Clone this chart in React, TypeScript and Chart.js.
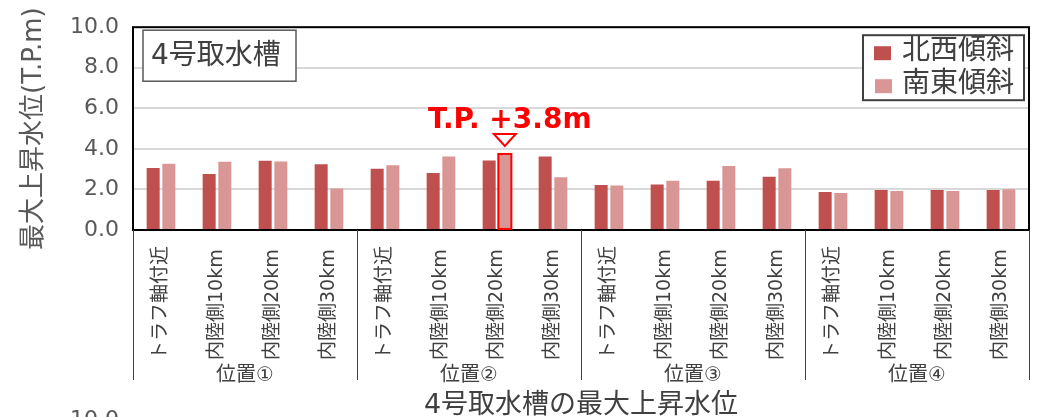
import React, { useEffect, useRef } from 'react';
import { Chart, registerables } from 'chart.js';

Chart.register(...registerables);

const FONT = "'DejaVu Sans', 'Noto Sans CJK JP', sans-serif";

// ---- data ----
const positions = ['位置①', '位置②', '位置③', '位置④'];
const subCategories = ['トラフ軸付近', '内陸側10km', '内陸側20km', '内陸側30km'];
const categories = positions.flatMap(() => subCategories);
const seriesNames = ['北西傾斜', '南東傾斜'];
const northwestValues = [3.06, 2.76, 3.41, 3.24, 3.02, 2.81, 3.43, 3.62, 2.22, 2.24, 2.43, 2.63, 1.87, 1.97, 1.97, 1.97];
const southeastValues = [3.27, 3.37, 3.38, 2.05, 3.19, 3.62, 3.75, 2.6, 2.2, 2.43, 3.16, 3.05, 1.83, 1.92, 1.92, 2.01];
const seriesColors = ['#C0504D', '#D99694'];
const yMin = 0;
const yMax = 10;
const yStep = 2;
const panelTitle = '4号取水槽';
const yAxisTitle = '最大上昇水位(T.P.m)';
const xAxisTitle = '4号取水槽の最大上昇水位';
const peakLabel = 'T.P. +3.8m';
const peakSeries = 1;
const peakIndex = 6;
const nextPanelTopTick = '10.0';

const overlayPlugin = {
  id: 'overlay',
  afterDraw(chart: any) {
    const { ctx, chartArea: a } = chart;
    const x = chart.scales.x;
    const catW = x.getPixelForValue(1) - x.getPixelForValue(0);
    ctx.save();

    // plot frame
    ctx.strokeStyle = '#000000';
    ctx.lineWidth = 2;
    ctx.strokeRect(a.left, a.top, a.right - a.left, a.bottom - a.top);

    // group separators
    ctx.strokeStyle = '#404040';
    ctx.lineWidth = 1;
    const sepBottom = 380;
    for (let g = 0; g <= positions.length; g++) {
      const px = Math.round(x.getPixelForValue(g * subCategories.length) - catW / 2) + 0.5;
      ctx.beginPath();
      ctx.moveTo(px, a.bottom);
      ctx.lineTo(px, sepBottom);
      ctx.stroke();
    }

    // category labels (rotated, start-aligned at bottom)
    ctx.fillStyle = '#404040';
    ctx.font = `19px ${FONT}`;
    ctx.textAlign = 'left';
    ctx.textBaseline = 'middle';
    categories.forEach((lab, i) => {
      ctx.save();
      ctx.translate(x.getPixelForValue(i), 360);
      ctx.rotate(-Math.PI / 2);
      ctx.fillText(lab, 0, 0);
      ctx.restore();
    });

    // group labels
    ctx.font = `20px ${FONT}`;
    ctx.textAlign = 'center';
    positions.forEach((p, g) => {
      const n = subCategories.length;
      const cx = (x.getPixelForValue(g * n) + x.getPixelForValue(g * n + n - 1)) / 2;
      ctx.fillText(p, cx, 376);
    });

    // x axis title
    ctx.font = `27px ${FONT}`;
    ctx.fillText(xAxisTitle, (a.left + a.right) / 2, 406);

    // partial tick of next panel
    ctx.fillStyle = '#595959';
    ctx.font = `22px ${FONT}`;
    ctx.textAlign = 'right';
    ctx.textBaseline = 'alphabetic';
    ctx.fillText(nextPanelTopTick, a.left - 14, 426);

    // panel title box
    ctx.fillStyle = '#ffffff';
    ctx.fillRect(a.left + 10, a.top + 3, 153, 51);
    ctx.strokeStyle = '#595959';
    ctx.lineWidth = 1.5;
    ctx.strokeRect(a.left + 10, a.top + 3, 153, 51);
    ctx.fillStyle = '#404040';
    ctx.font = `28px ${FONT}`;
    ctx.textAlign = 'left';
    ctx.textBaseline = 'middle';
    ctx.fillText(panelTitle, a.left + 18, a.top + 30);

    // legend box
    const lx = a.right - 166;
    const ly = a.top + 8;
    ctx.fillStyle = '#ffffff';
    ctx.fillRect(lx, ly, 161, 65);
    ctx.strokeStyle = '#404040';
    ctx.lineWidth = 2;
    ctx.strokeRect(lx, ly, 161, 65);
    seriesNames.forEach((name, i) => {
      const rowY = ly + 18 + i * 33;
      ctx.fillStyle = seriesColors[i];
      ctx.fillRect(lx + 11 + i, rowY - 7, 17, 14);
      ctx.fillStyle = '#404040';
      ctx.font = `28px ${FONT}`;
      ctx.fillText(name, lx + 39, rowY - 1);
    });

    // peak highlight
    const bar = chart.getDatasetMeta(peakSeries).data[peakIndex];
    const p = bar.getProps(['x', 'y', 'width', 'base'], true);
    ctx.strokeStyle = '#FF0000';
    ctx.lineWidth = 2;
    ctx.strokeRect(p.x - p.width / 2, p.y, p.width, p.base - p.y);
    // triangle marker
    ctx.beginPath();
    ctx.moveTo(p.x - 11, p.y - 20);
    ctx.lineTo(p.x + 11, p.y - 20);
    ctx.lineTo(p.x, p.y - 8);
    ctx.closePath();
    ctx.fillStyle = '#ffffff';
    ctx.fill();
    ctx.stroke();
    // label
    ctx.fillStyle = '#FF0000';
    ctx.font = `bold 28px ${FONT}`;
    ctx.textAlign = 'center';
    ctx.textBaseline = 'alphabetic';
    ctx.fillText(peakLabel, p.x + 5, p.y - 25.5);

    ctx.restore();
  },
};

export default function App() {
  const canvasRef = useRef<HTMLCanvasElement | null>(null);

  useEffect(() => {
    if (!canvasRef.current) return;
    const chart = new Chart(canvasRef.current, {
      type: 'bar',
      data: {
        labels: categories,
        datasets: [
          {
            label: seriesNames[0],
            data: northwestValues,
            backgroundColor: seriesColors[0],
            borderWidth: 0,
            categoryPercentage: 0.56,
            barPercentage: 0.83,
          },
          {
            label: seriesNames[1],
            data: southeastValues,
            backgroundColor: seriesColors[1],
            borderWidth: 0,
            categoryPercentage: 0.56,
            barPercentage: 0.83,
          },
        ],
      },
      options: {
        responsive: false,
        animation: false,
        devicePixelRatio: 1,
        layout: { padding: { left: 0, right: 16, top: 20, bottom: 0 } },
        plugins: {
          legend: { display: false },
          tooltip: { enabled: false },
        },
        scales: {
          x: {
            type: 'category',
            offset: true,
            grid: { display: false },
            border: { display: false },
            ticks: { display: false },
            afterFit: (s: any) => {
              s.height = 187;
            },
          },
          y: {
            min: yMin,
            max: yMax,
            ticks: {
              stepSize: yStep,
              padding: 14,
              color: '#595959',
              font: { family: FONT, size: 22 },
              callback: (v: any) => Number(v).toFixed(1),
            },
            grid: { color: '#D9D9D9', lineWidth: 2, drawTicks: false },
            border: { display: false },
            title: {
              display: true,
              text: yAxisTitle,
              color: '#595959',
              font: { family: FONT, size: 26 },
              padding: { top: 19, bottom: 0 },
            },
            afterFit: (s: any) => {
              s.width = 133;
            },
          },
        },
      },
      plugins: [overlayPlugin],
    } as any);
    return () => chart.destroy();
  }, []);

  return (
    <div style={{ position: 'absolute', left: 0, top: 0, width: 1045, height: 417, background: '#ffffff' }}>
      <canvas ref={canvasRef} width={1045} height={417} style={{ display: 'block' }} />
    </div>
  );
}
